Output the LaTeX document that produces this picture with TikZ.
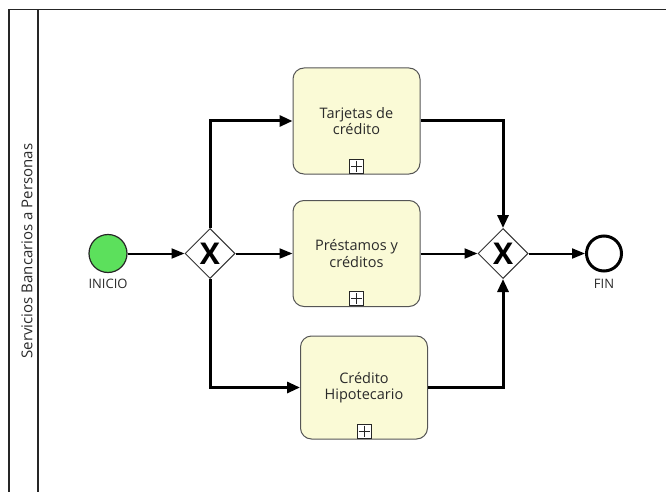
\documentclass[tikz,border=0pt]{standalone}
\usepackage{fontspec}
\setmainfont{Open Sans}
\usetikzlibrary{arrows.meta,shapes.geometric,calc}
\definecolor{txt}{HTML}{2A2A2A}
\definecolor{taskfill}{HTML}{FAFAD6}
\definecolor{taskline}{HTML}{555555}
\definecolor{startfill}{HTML}{5CE05C}
\begin{document}
\begin{tikzpicture}[x=1pt,y=-1pt,
  flow/.style={line width=2pt,-{Triangle[length=13pt,width=10pt]}},
  heavyflow/.style={line width=3pt,-{Triangle[length=13pt,width=11pt]}},
  task/.style={draw=taskline,line width=1pt,fill=taskfill,rounded corners=11pt,
    minimum width=127pt,minimum height=106pt,align=center,inner sep=0pt,
    font=\fontsize{14.5}{16.5}\selectfont,text=txt},
  gateway/.style={diamond,draw=black!80,line width=1pt,fill=white,
    minimum width=50pt,minimum height=50pt,inner sep=0pt,
    font=\fontsize{30}{30}\selectfont\bfseries},
  evlabel/.style={font=\fontsize{13}{14}\selectfont,text=txt},
  submark/.style={draw=black!85,line width=0.8pt,fill=white,minimum size=14pt,inner sep=0pt}]
  \useasboundingbox (0,0) rectangle (666,492);
  % pool frame and lane header
  \draw[line width=1.2pt,black!85] (9,492) -- (9,9.5) -- (666,9.5);
  \draw[line width=1.2pt,black!85] (38,9.5) -- (38,492);
  \node[rotate=90,font=\fontsize{15}{17}\selectfont,text=txt] (lane) at (27,251) {Servicios Bancarios a Personas};

  % events
  \node[circle,draw=black!85,line width=1.2pt,fill=startfill,minimum size=38pt,inner sep=0pt] (start) at (108,253.5) {};
  \node[evlabel] (startlbl) at (108,284) {INICIO};
  \node[circle,draw=black,line width=3pt,fill=white,minimum size=35pt,inner sep=0pt] (end) at (604,253.5) {};
  \node[evlabel] (endlbl) at (604,284) {FIN};

  % gateways
  \node[gateway] (gw1) at (210,253.5) {X};
  \node[gateway] (gw2) at (503,253.5) {X};

  % sub-process tasks
  \node[task] (t1) at (356.5,121) {Tarjetas de\\crédito};
  \node[task] (t2) at (356.5,253.5) {Préstamos y\\créditos};
  \node[task,minimum height=103pt] (t3) at (364,387.5) {Crédito\\Hipotecario};
  \foreach \t in {t1,t2,t3}{
    \node[submark,anchor=south] (\t m) at ($(\t.south)+(0,-1)$) {};
    \draw[line width=0.8pt,black!85] ($(\t m.center)+(-5.5,0)$) -- ($(\t m.center)+(5.5,0)$)
      ($(\t m.center)+(0,-5.5)$) -- ($(\t m.center)+(0,5.5)$);
  }

  % sequence flows
  \draw[flow] (start) -- (gw1);
  \draw[heavyflow] (gw1.north) |- (t1.west);
  \draw[flow] (gw1.east) -- (t2.west);
  \draw[heavyflow] (gw1.south) |- (t3.west);
  \draw[heavyflow] (t1.east) -| (gw2.north);
  \draw[flow] (t2.east) -- (gw2.west);
  \draw[heavyflow] (t3.east) -| (gw2.south);
  \draw[flow] (gw2.east) -- (end);
\end{tikzpicture}
\end{document}
